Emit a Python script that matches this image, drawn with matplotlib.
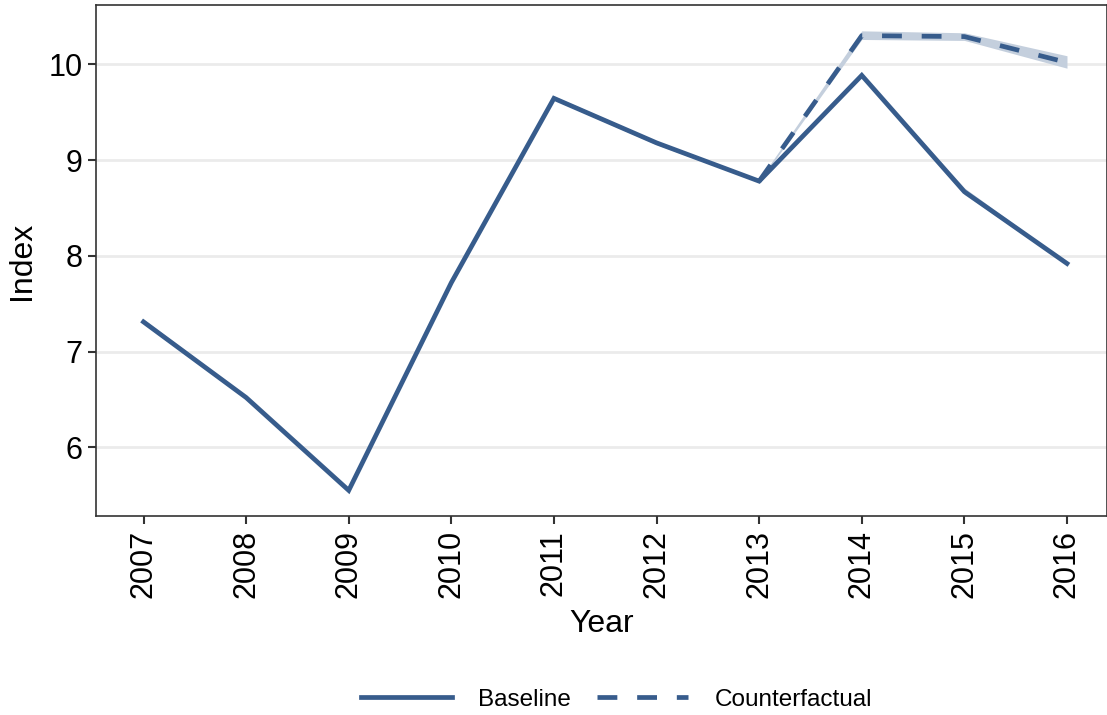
import matplotlib.pyplot as plt
from matplotlib.lines import Line2D

plt.rcParams['font.family'] = ['Liberation Sans', 'DejaVu Sans']

years = [2007, 2008, 2009, 2010, 2011, 2012, 2013, 2014, 2015, 2016]
baseline = [7.31, 6.52, 5.55, 7.72, 9.645, 9.18, 8.78, 9.885, 8.67, 7.92]
baseline_lo = [7.29, 6.50, 5.54, 7.70, 9.63, 9.16, 8.77, 9.87, 8.64, 7.91]
baseline_hi = [7.34, 6.54, 5.56, 7.74, 9.67, 9.20, 8.79, 9.90, 8.71, 7.93]

cf_years = [2013, 2014, 2015, 2016]
counterfactual = [8.78, 10.30, 10.29, 10.02]
cf_lo = [8.77, 10.26, 10.25, 9.96]
cf_hi = [8.79, 10.35, 10.33, 10.09]

line_col = '#375c8c'
band_col = '#c4cfdd'
dash = (4.2, 4.2)

fig = plt.figure(figsize=(11.07, 7.15), dpi=100)
ax = fig.add_axes([0.087, 0.278, 0.913, 0.715])

ax.fill_between(years, baseline_lo, baseline_hi, color=band_col, lw=0)
ax.fill_between(cf_years, cf_lo, cf_hi, color=band_col, lw=0)
ax.plot(years, baseline, color=line_col, lw=3.4, solid_joinstyle='miter')
ax.plot(cf_years, counterfactual, color=line_col, lw=3.4, dashes=dash)

ax.set_xlim(2006.54, 2016.39)
ax.set_ylim(5.28, 10.62)
ax.set_xticks(years)
ax.set_xticklabels([str(y) for y in years], rotation=90, fontsize=22)
ax.set_yticks([6, 7, 8, 9, 10])
ax.tick_params(axis='y', labelsize=22)
ax.tick_params(direction='out', length=6, width=1.5, color='#333333', pad=4)
ax.yaxis.grid(True, color='#ebebeb', lw=2)
ax.set_axisbelow(True)
for s in ax.spines.values():
    s.set_color('#333333')
    s.set_linewidth(1.2)

ax.set_xlabel('Year', fontsize=23, labelpad=8)
ax.set_ylabel('Index', fontsize=23, labelpad=8)

handles = [Line2D([], [], color=line_col, lw=3.4),
           Line2D([], [], color=line_col, lw=3.4, dashes=dash)]
fig.legend(handles, ['Baseline', 'Counterfactual'], loc='center',
           bbox_to_anchor=(0.557, 0.021), ncol=2, frameon=False,
           fontsize=17.5, handlelength=3.75, columnspacing=1.07, handletextpad=1.1)

fig.savefig('out.png', dpi=100)
